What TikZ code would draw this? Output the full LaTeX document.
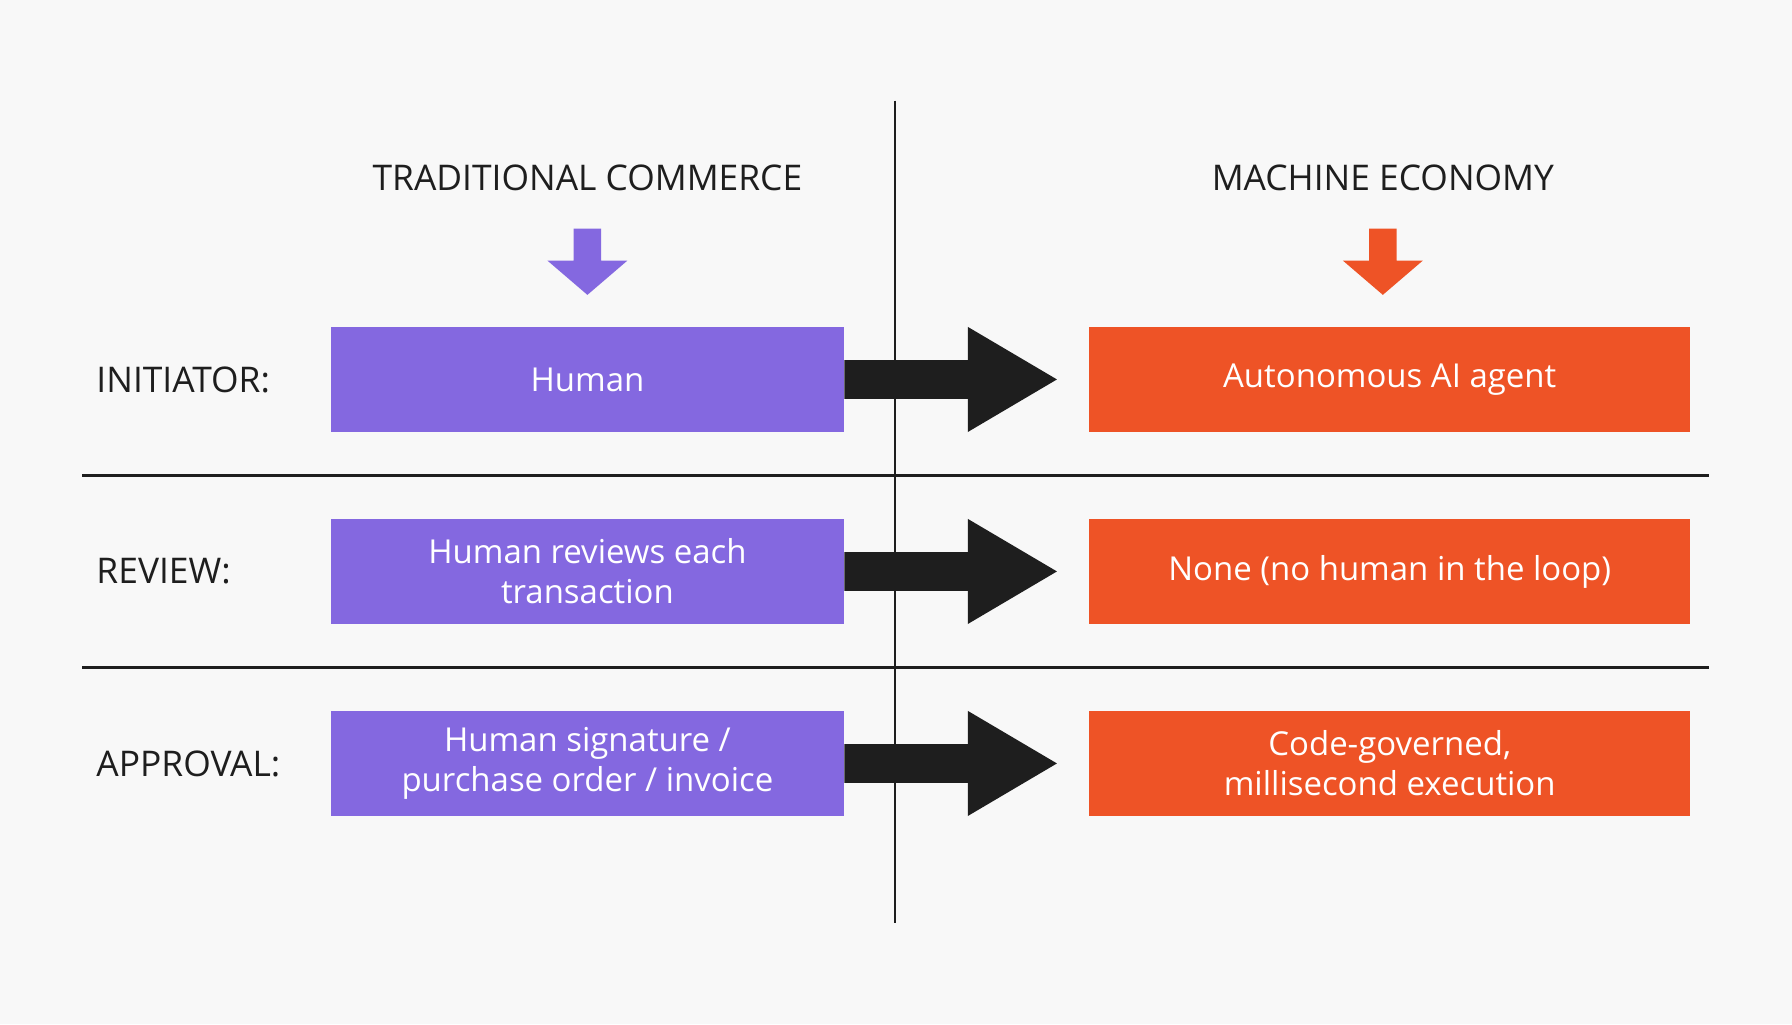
\documentclass[tikz,border=0pt]{standalone}
\usepackage{fontspec}
\setmainfont{Open Sans}
\usetikzlibrary{calc}
\definecolor{trad}{HTML}{8468E0}
\definecolor{mach}{HTML}{EE5326}
\definecolor{ink}{HTML}{1E1E1E}
\definecolor{paper}{HTML}{F8F8F8}
\begin{document}
\begin{tikzpicture}[x=0.01cm, y=-0.01cm,
    box/.style = {minimum height=26.2mm*0.35, inner sep=0pt, text=white, align=center,
                  font=\fontsize{8.2}{10}\selectfont},
    old/.style = {box, fill=trad, minimum width=4.48cm},
    new/.style = {box, fill=mach, minimum width=5.26cm},
    row/.style = {anchor=west, text=ink, font=\fontsize{8.8}{10}\selectfont},
    head/.style = {text=ink, font=\fontsize{8.8}{10}\selectfont},
    rule/.style = {ink, line width=0.6pt}]
    \fill[paper] (0,0) rectangle (1568,896);
    \useasboundingbox (0,0) rectangle (1568,896);
    % dividers
    \coordinate (top) at (783,88);
    \coordinate (bot) at (783,808);
    \draw[rule] (top) -- (bot);
    \coordinate (l1) at (72,416);  \coordinate (r1) at (1495,416);
    \coordinate (l2) at (72,584);  \coordinate (r2) at (1495,584);
    \draw[rule] (l1) -- (r1);
    \draw[rule] (l2) -- (r2);
    % headings
    \node[head](t) at (514,156) {TRADITIONAL COMMERCE};
    \node[head](m) at (1210,156) {MACHINE ECONOMY};
    \foreach \h/\c in {t/trad, m/mach}
        \fill[\c] ($(\h)+(-12,44)$) -- ++(24,0) -- ++(0,28) -- ++(23,0)
                  -- ($(\h)+(0,102)$) -- ($(\h)+(-35,72)$) -- ++(23,0) -- cycle;
    % rows
    \node[old](h1) at (514,332) {Human};
    \node[old](h2) at (514,500) {Human reviews each\\transaction};
    \node[old](h3) at (514,668) {Human signature /\\purchase order / invoice};
    \node[new](a1) at (1216,332) {Autonomous AI agent};
    \node[new](a2) at (1216,500) {None (no human in the loop)};
    \node[new](a3) at (1216,668) {Code-governed,\\millisecond execution};
    \node[row](n1) at (72,332) {INITIATOR:};
    \node[row](n2) at (72,500) {REVIEW:};
    \node[row](n3) at (72,668) {APPROVAL:};
    % transition arrows
    \foreach \i in {1,2,3}
        \fill[ink] ($(h\i.east)+(0,-17)$) -- ++(108,0) -- ++(0,-29)
                   -- ($(h\i.east)+(186,0)$) -- ($(h\i.east)+(108,46)$)
                   -- ++(0,-29) -- ++(-108,0) -- cycle;
\end{tikzpicture}
\end{document}
